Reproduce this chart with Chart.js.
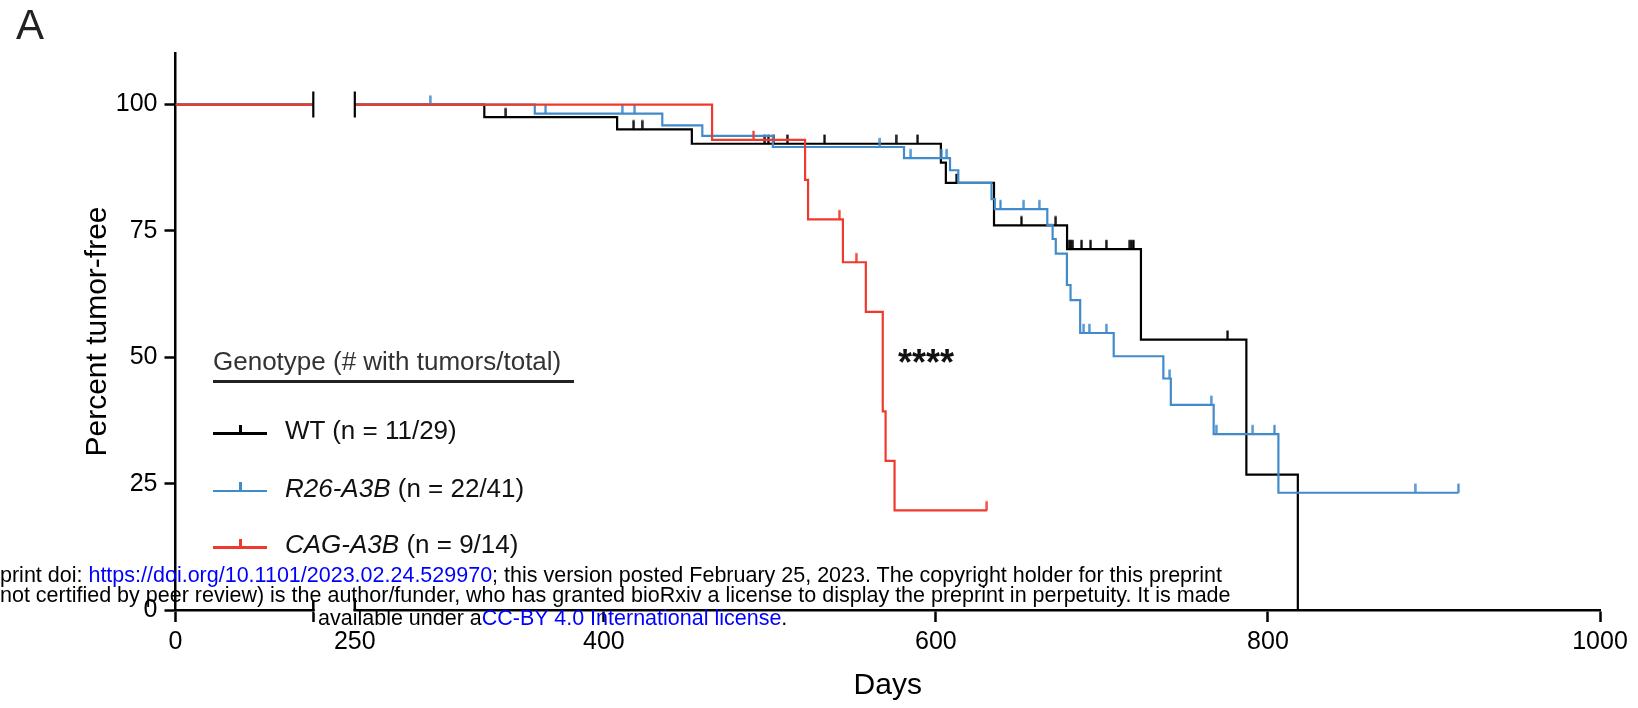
<!DOCTYPE html>
<html>
<head>
<meta charset="utf-8">
<title>Percent tumor-free</title>
<script src="https://cdn.jsdelivr.net/npm/chart.js@4.4.0/dist/chart.umd.min.js"></script>
<style>
  html, body { margin: 0; padding: 0; background: #fff; overflow: hidden; }
  #wrap { position: relative; width: 1638px; height: 708px; font-family: "Liberation Sans", Arial, sans-serif; }
  #wrap canvas { position: absolute; left: 0; top: 0; }
  .txt { position: absolute; white-space: nowrap; }
  .panel { left: 16px; top: 4px; font-size: 42px; line-height: 42px; color: #222; }
  .stars { left: 898px; top: 345px; font-size: 36px; line-height: 36px; font-weight: bold; color: #111; }
  .leg { font-size: 26px; line-height: 26px; color: #111; }
  .leg i { font-style: italic; }
  .rule { position: absolute; left: 213px; top: 380px; width: 361px; height: 2.5px; background: #222; }
  .sw { position: absolute; height: 2.5px; width: 54px; left: 213px; }
  .sw span { position: absolute; left: 26px; bottom: 0; width: 2.5px; height: 10px; background: inherit; }
  .wm { font-size: 21.5px; line-height: 21px; color: #000; }
  .wm a { color: #0000ff; text-decoration: none; }
</style>
</head>
<body>
<div id="wrap">
  <canvas id="km" width="1638" height="708"></canvas>
  <div class="txt panel">A</div>
  <div class="txt stars">****</div>

  <div class="txt leg" style="left:213px; top:348px; color:#333;">Genotype (# with tumors/total)</div>
  <div class="rule"></div>
  <div class="sw" style="top:432px; background:#000;"><span></span></div>
  <div class="txt leg" style="left:285px; top:417px;">WT (n = 11/29)</div>
  <div class="sw" style="top:489.5px; background:#428bca;"><span></span></div>
  <div class="txt leg" style="left:285px; top:475px;"><i>R26-A3B</i> (n = 22/41)</div>
  <div class="sw" style="top:546px; background:#ee3a2c;"><span></span></div>
  <div class="txt leg" style="left:285px; top:531px;"><i>CAG-A3B</i> (n = 9/14)</div>

  <div class="txt wm" style="left:0; top:565px;">print doi: <a>https://doi.org/10.1101/2023.02.24.529970</a>; this version posted February 25, 2023. The copyright holder for this preprint</div>
  <div class="txt wm" style="left:0; top:585px;">not certified by peer review) is the author/funder, who has granted bioRxiv a license to display the preprint in perpetuity. It is made</div>
  <div class="txt wm" style="left:318px; top:608px;">available under a<a>CC-BY 4.0 International license</a>.</div>
</div>
<script>
// broken x axis: first segment 0-83 days, second segment 250-1000 days
const SEG1_END_DAY = 83;
const SEG2_START_DAY = 250;
const AXIS_ZERO = 142;   // axis position of day 0

const xTickDays = [0, 250, 400, 600, 800, 1000];
const yTicks = [0, 25, 50, 75, 100];

// [day, percent tumor-free] where the curve steps to that value
const wtSteps = [[250, 100], [328, 97.5], [408, 95.1], [453, 92.25], [603, 88.5], [606, 84.5],
  [635, 76.1], [679, 71.4], [723.5, 53.5], [787, 26.8], [818, 0]];
const wtCensored = [[341, 97.5], [418, 95.1], [423, 95.1], [497, 92.25], [499, 92.25], [502, 92.25],
  [510.5, 92.25], [533, 92.25], [576, 92.25], [589, 92.25], [612.5, 84.5], [651.5, 76.1], [672.2, 76.1],
  [680.2, 71.4], [681.3, 71.4], [682.4, 71.4], [687.8, 71.4], [693.2, 71.4], [702.6, 71.4],
  [716.8, 71.4], [717.9, 71.4], [719, 71.4], [775.7, 53.5]];

const r26Steps = [[250, 100], [358.4, 98.2], [435.2, 95.9], [459.3, 93.8], [501.8, 91.6], [580.8, 89.4],
  [608.5, 87.0], [613.5, 84.5], [633.5, 81.3], [635.5, 79.3], [667.1, 76.2], [670.3, 73.4], [672.2, 70.5],
  [678.9, 64.3], [681.1, 61.3], [686.9, 54.8], [707.1, 50.2], [737, 45.8], [741.5, 40.6], [767.3, 34.8],
  [806.3, 23.2], [914.7, 23.2]];
const r26Censored = [[295.3, 100], [364.9, 98.2], [411, 98.2], [418.6, 98.2], [566.3, 91.6], [584.9, 89.4],
  [603.1, 89.4], [606.6, 89.4], [638.9, 79.3], [652.9, 79.3], [662.2, 79.3], [689.1, 54.8], [692.3, 54.8],
  [702.6, 54.8], [740.9, 45.8], [765.7, 40.6], [768.8, 34.8], [790.9, 34.8], [803.9, 34.8],
  [888.6, 23.2], [914.7, 23.2]];

const cagSteps = [[250, 100], [465.2, 93.0], [521.2, 85.1], [523, 77.3], [544, 68.8], [557.8, 59.0],
  [568, 39.3], [569.7, 29.5], [575.1, 19.7], [630.7, 19.7]];
const cagCensored = [[490.2, 93.0], [541.8, 77.3], [552, 68.8], [630.7, 19.7]];

const seriesNames = ['WT', 'R26-A3B', 'CAG-A3B'];

function toAxis(day) {
  return day < SEG2_START_DAY ? AXIS_ZERO + day : day;
}

function stepData(steps) {
  return [
    {x: toAxis(0), y: 100},
    {x: toAxis(SEG1_END_DAY), y: 100},
    {x: (toAxis(SEG1_END_DAY) + SEG2_START_DAY) / 2, y: null},
    ...steps.map(([d, p]) => ({x: toAxis(d), y: p}))
  ];
}

// small upward tick used as the censor marker
function censorMark(color) {
  const c = document.createElement('canvas');
  c.width = 3;
  c.height = 20;
  const g = c.getContext('2d');
  g.fillStyle = color;
  g.fillRect(0.4, 0.8, 2.2, 9.4);
  return c;
}

const colors = {'WT': '#000000', 'R26-A3B': '#428bca', 'CAG-A3B': '#ee3a2c'};
const order = {'WT': 3, 'R26-A3B': 2, 'CAG-A3B': 1};
const steps = {'WT': wtSteps, 'R26-A3B': r26Steps, 'CAG-A3B': cagSteps};
const censored = {'WT': wtCensored, 'R26-A3B': r26Censored, 'CAG-A3B': cagCensored};

const datasets = [];
seriesNames.forEach(name => {
  datasets.push({
    label: name,
    data: stepData(steps[name]),
    stepped: 'before',
    borderColor: colors[name],
    borderWidth: 2.2,
    pointRadius: 0,
    fill: false,
    spanGaps: false,
    order: order[name]
  });
  datasets.push({
    label: name + ' censored',
    data: censored[name].map(([d, p]) => ({x: toAxis(d), y: p})),
    showLine: false,
    pointStyle: censorMark(colors[name]),
    pointRadius: 3,
    order: order[name]
  });
});
// break marks where the curves leave and re-enter the axis segments
datasets.push({
  label: 'break',
  data: [{x: toAxis(SEG1_END_DAY), y: 100}, {x: SEG2_START_DAY, y: 100}],
  showLine: false,
  pointStyle: 'line',
  rotation: 90,
  pointRadius: 13,
  pointBorderWidth: 2.2,
  borderColor: '#000',
  order: 0
});

const axisBreak = {
  id: 'axisBreak',
  afterDraw(chart) {
    const {ctx, chartArea, scales: {x}} = chart;
    const x1 = x.getPixelForValue(toAxis(SEG1_END_DAY));
    const x2 = x.getPixelForValue(SEG2_START_DAY);
    const yb = chartArea.bottom;
    ctx.save();
    ctx.fillStyle = '#fff';
    ctx.fillRect(x1 + 1.3, yb - 3, x2 - x1 - 2.6, 6);
    ctx.strokeStyle = '#000';
    ctx.lineWidth = 2.5;
    ctx.beginPath();
    ctx.moveTo(x1, yb - 10);
    ctx.lineTo(x1, yb + 1);
    ctx.moveTo(x2, yb - 12);
    ctx.lineTo(x2, yb + 1);
    ctx.stroke();
    ctx.restore();
  }
};

const tickFont = {family: '"Liberation Sans", Arial, sans-serif', size: 25};
const titleFont = {family: '"Liberation Sans", Arial, sans-serif', size: 30};
const xTicks = [0, SEG1_END_DAY, ...xTickDays.slice(1)];

new Chart(document.getElementById('km'), {
  type: 'line',
  data: {datasets: datasets},
  options: {
    responsive: false,
    animation: false,
    layout: {padding: {left: 70, right: 38, top: 53, bottom: 0}},
    plugins: {
      legend: {display: false},
      tooltip: {enabled: false}
    },
    scales: {
      x: {
        type: 'linear',
        min: toAxis(0),
        max: 1000,
        afterBuildTicks: axis => { axis.ticks = xTicks.map(d => ({value: toAxis(d)})); },
        ticks: {
          autoSkip: false,
          maxRotation: 0,
          padding: 5,
          color: '#000',
          font: tickFont,
          callback: (v, i) => (xTicks[i] === SEG1_END_DAY ? '' : String(xTicks[i]))
        },
        grid: {
          drawOnChartArea: false,
          tickLength: 12,
          tickWidth: 2.5,
          tickColor: c => (c.tick && c.tick.value === SEG2_START_DAY ? 'rgba(0,0,0,0)' : '#000')
        },
        border: {color: '#000', width: 2.5},
        title: {display: true, text: 'Days', color: '#000', font: titleFont, padding: {top: 6, bottom: 4}}
      },
      y: {
        min: 0,
        max: 110.2,
        afterBuildTicks: axis => { axis.ticks = yTicks.map(v => ({value: v})); },
        afterFit: axis => { axis.width = 105.5; },
        ticks: {padding: 7, color: '#000', font: tickFont},
        grid: {drawOnChartArea: false, tickLength: 11, tickWidth: 2.5, tickColor: '#000'},
        border: {color: '#000', width: 2.5},
        title: {display: true, text: 'Percent tumor-free', color: '#000', font: titleFont, padding: {top: 10, bottom: 0}}
      }
    }
  },
  plugins: [axisBreak]
});
</script>
</body>
</html>
